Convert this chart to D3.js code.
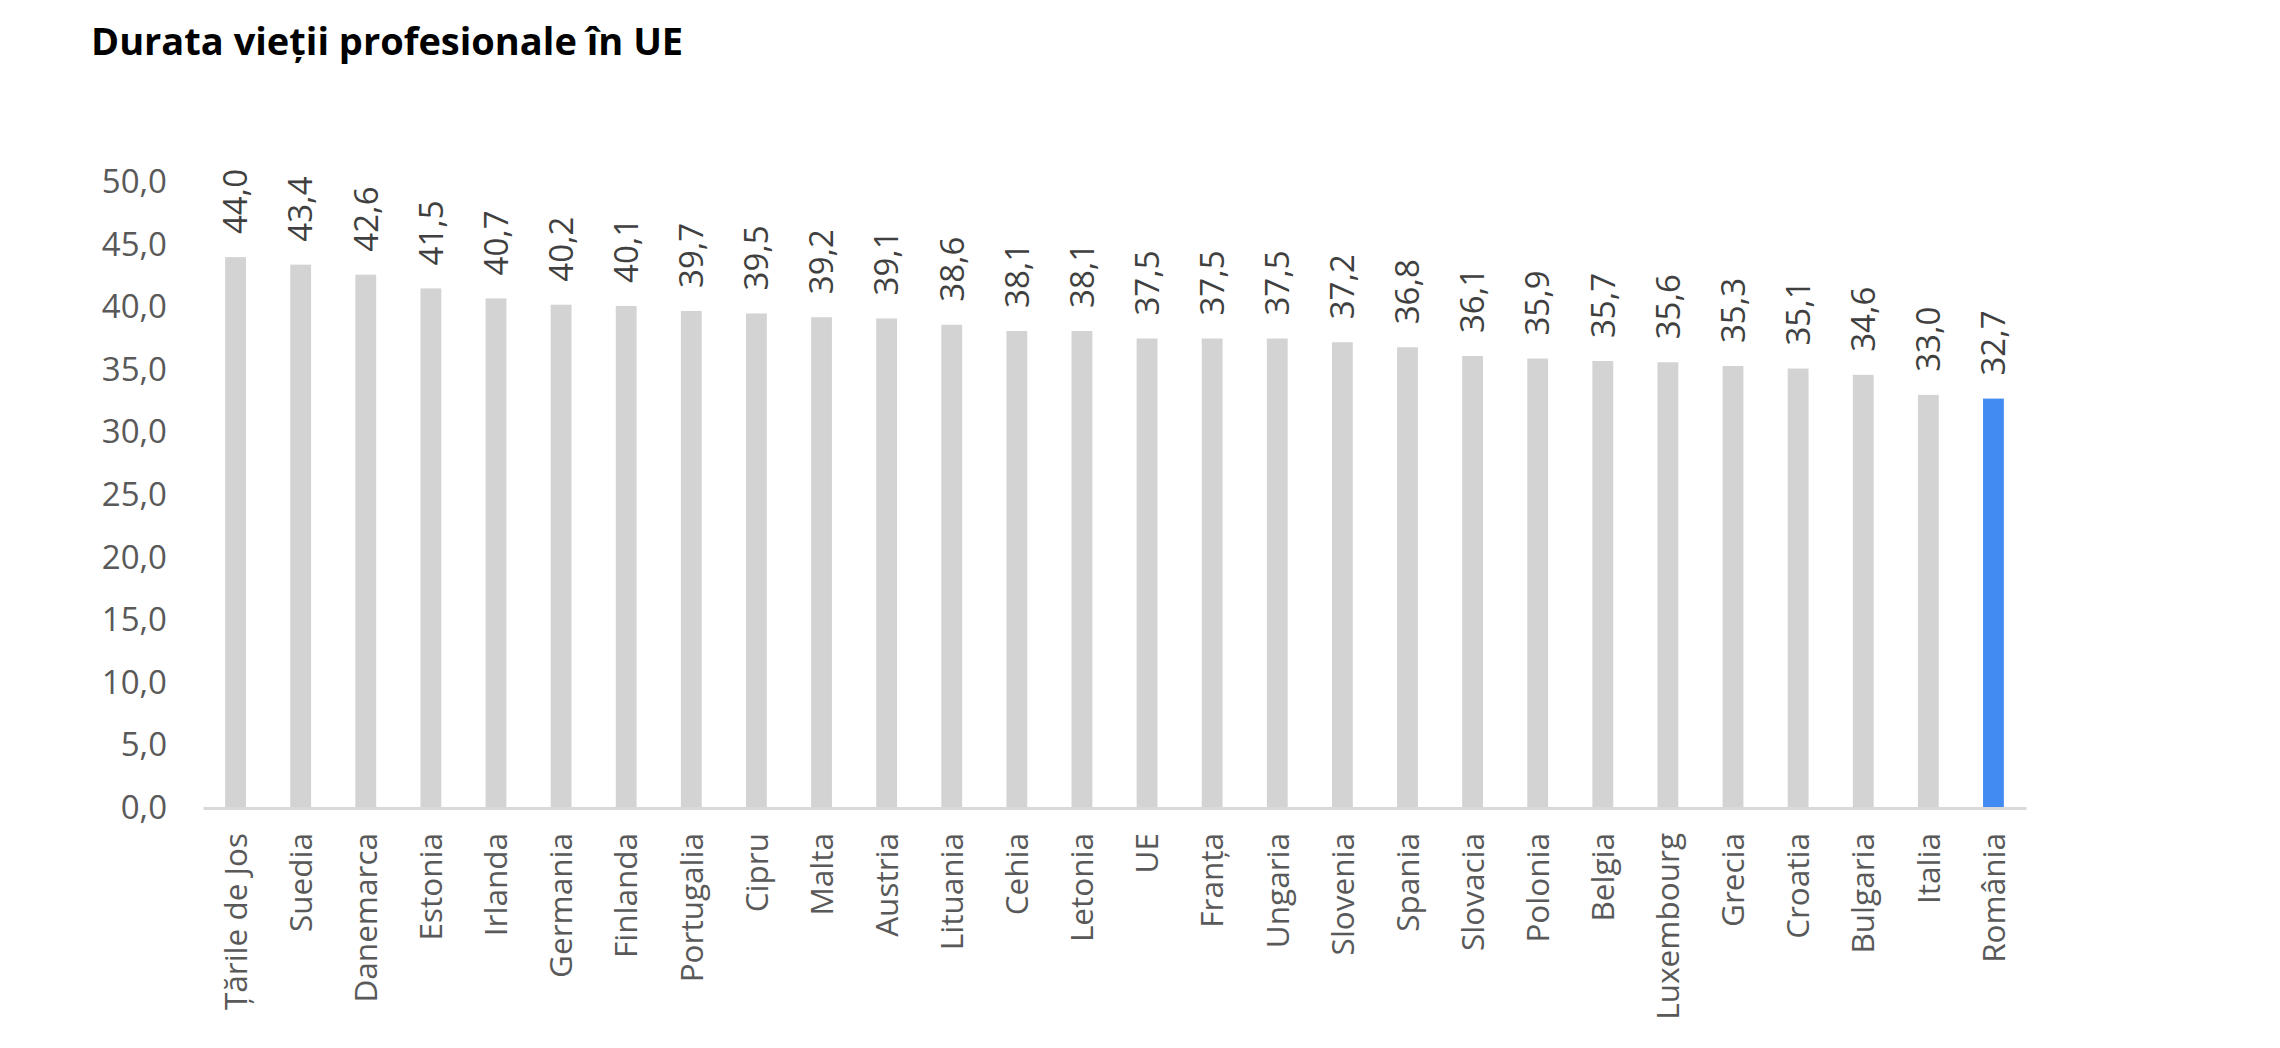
<!DOCTYPE html>
<html>
<head>
<meta charset="utf-8">
<script src="https://cdn.jsdelivr.net/npm/d3@7"></script>
<style>
  body { margin: 0; background: #fff; }
  text { font-family: "Open Sans", sans-serif; }
</style>
</head>
<body>
<div id="chart"></div>
<script>
// data
const countries = ["\u021Aările de Jos", "Suedia", "Danemarca", "Estonia", "Irlanda", "Germania", "Finlanda",
  "Portugalia", "Cipru", "Malta", "Austria", "Lituania", "Cehia", "Letonia", "UE", "Franța",
  "Ungaria", "Slovenia", "Spania", "Slovacia", "Polonia", "Belgia", "Luxembourg", "Grecia",
  "Croatia", "Bulgaria", "Italia", "România"];
const years = [44.0, 43.4, 42.6, 41.5, 40.7, 40.2, 40.1, 39.7, 39.5, 39.2, 39.1, 38.6, 38.1, 38.1,
  37.5, 37.5, 37.5, 37.2, 36.8, 36.1, 35.9, 35.7, 35.6, 35.3, 35.1, 34.6, 33.0, 32.7];
const yTicks = [0, 5, 10, 15, 20, 25, 30, 35, 40, 45, 50];
const highlight = "România";
const titleText = "Durata vieții profesionale în UE";

const W = 2280, H = 1048;
const margin = {left: 203, right: 2026, top: 182, bottom: 808};

const rows = countries.map(function(c, i) { return {name: c, value: years[i]}; });
const fmt = function(v) { return d3.format(".1f")(v).replace(".", ","); };

const svg = d3.select("#chart").append("svg")
  .attr("width", W)
  .attr("height", H);

svg.append("text")
  .attr("x", 91)
  .attr("y", 55)
  .style("font-weight", 700)
  .style("font-size", "38px")
  .attr("fill", "#000")
  .text(titleText);

const x = d3.scaleBand()
  .domain(countries)
  .range([margin.left, margin.right])
  .paddingInner(0.68)
  .paddingOuter(0.34);

const y = d3.scaleLinear()
  .domain([0, 50])
  .range([margin.bottom, margin.top]);

// y axis: labels only
const yAxis = d3.axisLeft(y)
  .tickValues(yTicks)
  .tickSize(0)
  .tickPadding(36)
  .tickFormat(fmt);
const gy = svg.append("g")
  .attr("transform", "translate(" + margin.left + ",0)")
  .call(yAxis);
gy.select(".domain").remove();
gy.selectAll("text")
  .style("font-family", "'Open Sans', sans-serif")
  .style("font-size", "33px")
  .attr("fill", "#595959");

// bars
svg.selectAll("rect.bar")
  .data(rows)
  .enter()
  .append("rect")
  .attr("class", "bar")
  .attr("x", function(d) { return x(d.name); })
  .attr("y", function(d) { return y(d.value); })
  .attr("width", x.bandwidth())
  .attr("height", function(d) { return y(0) - y(d.value); })
  .attr("fill", function(d) { return d.name === highlight ? "#428bf2" : "#d3d3d3"; });

// x axis line + rotated category labels
const xAxis = d3.axisBottom(x).tickSize(0).tickPadding(0);
const gx = svg.append("g")
  .attr("transform", "translate(0," + margin.bottom + ")")
  .call(xAxis);
gx.select(".domain")
  .attr("stroke", "#d9d9d9")
  .attr("stroke-width", 3);
gx.selectAll("text")
  .style("font-family", "'Open Sans', sans-serif")
  .style("font-size", "31.5px")
  .attr("fill", "#595959")
  .attr("text-anchor", "end")
  .attr("transform", "rotate(-90)")
  .attr("x", -25)
  .attr("y", 0)
  .attr("dy", "0.357em");

// value labels above bars
svg.selectAll("text.val")
  .data(rows)
  .enter()
  .append("text")
  .attr("class", "val")
  .attr("transform", function(d) {
    return "translate(" + (x(d.name) + x.bandwidth() / 2) + "," + (y(d.value) - 23) + ") rotate(-90)";
  })
  .attr("dy", "0.357em")
  .style("font-size", "33px")
  .attr("fill", "#404040")
  .text(function(d) { return fmt(d.value); });
</script>
</body>
</html>
